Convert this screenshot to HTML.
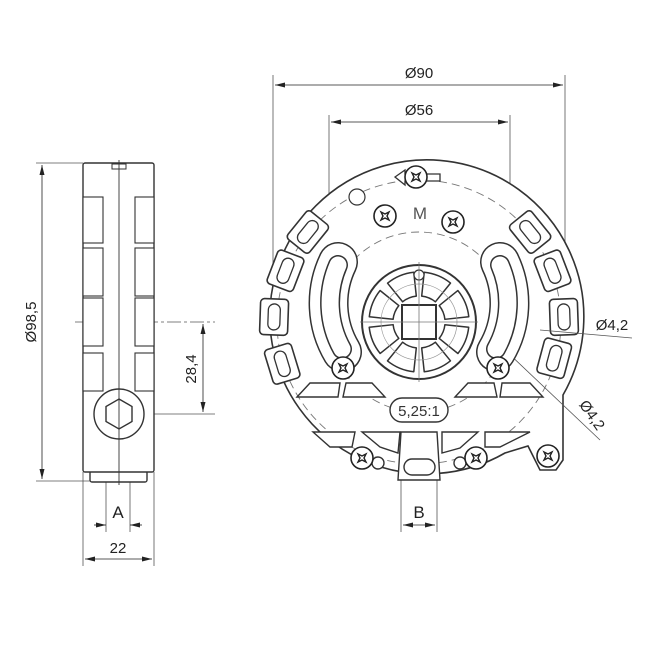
<!DOCTYPE html>
<html><head><meta charset="utf-8"><style>html,body{margin:0;padding:0;background:#fff}svg{display:block}</style></head><body>
<svg width="650" height="650" viewBox="0 0 650 650" xmlns="http://www.w3.org/2000/svg" font-family="Liberation Sans, DejaVu Sans, sans-serif">
<defs>
<marker id="ar" markerWidth="10" markerHeight="6" refX="10" refY="3" orient="auto-start-reverse" markerUnits="userSpaceOnUse"><path d="M0,0.5 L10,3 L0,5.5z" fill="#222"/></marker>
<g id="scr"><circle r="11" fill="#fff" stroke="#222" stroke-width="1.6"/><path d="M-4,-4 L0,-2 L4,-4 L2,0 L4,4 L0,2 L-4,4 L-2,0z" fill="none" stroke="#222" stroke-width="1.4"/></g>
<g id="cell"><rect x="-14" y="-18" width="28" height="36" rx="4" fill="#fff" stroke="#333" stroke-width="1.6"/><rect x="-6" y="-13" width="12" height="26" rx="6" fill="none" stroke="#333" stroke-width="1.3"/></g>
<path id="seg" d="M49.7,5.2 A50,50 0 0 1 38.9,31.5 L20.2,16.4 A26,26 0 0 0 25.9,2.7 Z" fill="#fff" stroke="#333" stroke-width="1.5" stroke-linejoin="round"/>
</defs>
<g stroke="#555" stroke-width="0.8" fill="none">
<line x1="36" y1="163" x2="83" y2="163"/><line x1="36" y1="481" x2="95" y2="481"/>
<line x1="42" y1="165" x2="42" y2="479" stroke="#222" marker-start="url(#ar)" marker-end="url(#ar)"/>
<line x1="75" y1="322" x2="215" y2="322" stroke-dasharray="14,3,3,3"/>
<line x1="144" y1="414" x2="215" y2="414"/>
<line x1="203" y1="324" x2="203" y2="412" stroke="#222" marker-start="url(#ar)" marker-end="url(#ar)"/>
<line x1="83" y1="472" x2="83" y2="566"/><line x1="154" y1="472" x2="154" y2="566"/>
<line x1="106" y1="420" x2="106" y2="532"/><line x1="130" y1="420" x2="130" y2="532"/>
<line x1="94" y1="525" x2="106" y2="525" stroke="#222" marker-end="url(#ar)"/><line x1="142" y1="525" x2="130" y2="525" stroke="#222" marker-end="url(#ar)"/>
<line x1="85" y1="559" x2="152" y2="559" stroke="#222" marker-start="url(#ar)" marker-end="url(#ar)"/>
<line x1="273" y1="75" x2="273" y2="320"/><line x1="565" y1="75" x2="565" y2="300"/>
<line x1="275" y1="85" x2="563" y2="85" stroke="#222" marker-start="url(#ar)" marker-end="url(#ar)"/>
<line x1="329" y1="115" x2="329" y2="370"/><line x1="510" y1="115" x2="510" y2="370"/>
<line x1="331" y1="122" x2="508" y2="122" stroke="#222" marker-start="url(#ar)" marker-end="url(#ar)"/>
<line x1="401" y1="380" x2="401" y2="532"/><line x1="437" y1="380" x2="437" y2="532"/>
<line x1="403" y1="525" x2="435" y2="525" stroke="#222" marker-start="url(#ar)" marker-end="url(#ar)"/>
</g>
<g stroke="#333" stroke-width="1.4" fill="#fff">
<rect x="90" y="471" width="57" height="11" rx="2"/>
<rect x="83" y="163" width="71" height="309" rx="2"/>
<g stroke-width="1.1">
<rect x="83" y="197" width="20" height="46"/><rect x="83" y="248" width="20" height="48"/><rect x="83" y="298" width="20" height="48"/><rect x="83" y="353" width="20" height="38"/>
<rect x="135" y="197" width="19" height="46"/><rect x="135" y="248" width="19" height="48"/><rect x="135" y="298" width="19" height="48"/><rect x="135" y="353" width="19" height="38"/>
</g>
<circle cx="119" cy="414" r="25"/>
<path d="M119,399 L132,406.5 L132,421.5 L119,429 L106,421.5 L106,406.5z"/>
<rect x="112" y="164" width="14" height="5" stroke-width="1"/>
</g>
<line x1="119" y1="160" x2="119" y2="485" stroke="#333" stroke-width="0.9"/>
<!-- front view -->
<path d="M563,395 A157,157 0 1 0 505,453 L528,446 L540,470 L556,470 L563,460 Z" stroke="#333" stroke-width="1.6" fill="#fff"/>
<g fill="none" stroke="#777" stroke-width="0.9" stroke-dasharray="8,5">
<circle cx="419" cy="322" r="142"/><circle cx="419" cy="322" r="90"/>
</g>
<g>
<use href="#cell" transform="translate(419,322) rotate(39) translate(-143,0)"/>
<use href="#cell" transform="translate(419,322) rotate(21) translate(-143,0)"/>
<use href="#cell" transform="translate(419,322) rotate(2) translate(-145,0)"/>
<use href="#cell" transform="translate(419,322) rotate(-17) translate(-143,0)"/>
<use href="#cell" transform="translate(419,322) rotate(-39) translate(143,0)"/>
<use href="#cell" transform="translate(419,322) rotate(-21) translate(143,0)"/>
<use href="#cell" transform="translate(419,322) rotate(-2) translate(145,0)"/>
<use href="#cell" transform="translate(419,322) rotate(15) translate(140,0)"/>
</g>
<g stroke="#555" stroke-width="0.8" fill="none">
<line x1="540" y1="330" x2="632" y2="338"/>
<line x1="505" y1="350" x2="600" y2="440"/>
</g>
<g fill="none" stroke-linecap="round">
<path d="M338,262 A95,95 0 0 0 342,352" stroke="#333" stroke-width="40"/>
<path d="M338,262 A95,95 0 0 0 342,352" stroke="#fff" stroke-width="37"/>
<path d="M338,265 A95,95 0 0 0 342,349" stroke="#333" stroke-width="20"/>
<path d="M338,265 A95,95 0 0 0 342,349" stroke="#fff" stroke-width="17"/>
<path d="M500,262 A95,95 0 0 1 496,352" stroke="#333" stroke-width="40"/>
<path d="M500,262 A95,95 0 0 1 496,352" stroke="#fff" stroke-width="37"/>
<path d="M500,265 A95,95 0 0 1 496,349" stroke="#333" stroke-width="20"/>
<path d="M500,265 A95,95 0 0 1 496,349" stroke="#fff" stroke-width="17"/>
</g>
<g stroke="#333" fill="#fff">
<circle cx="419" cy="322" r="57" stroke-width="2"/>
<g transform="translate(419,322)">
<use href="#seg"/><use href="#seg" transform="rotate(45)"/><use href="#seg" transform="rotate(90)"/><use href="#seg" transform="rotate(135)"/>
<use href="#seg" transform="rotate(180)"/><use href="#seg" transform="rotate(225)"/><use href="#seg" transform="rotate(270)"/><use href="#seg" transform="rotate(315)"/>
</g>
<circle cx="419" cy="322" r="38" fill="none" stroke="#999" stroke-width="0.7"/>
<rect x="402" y="305" width="34" height="34" stroke-width="2"/>
<circle cx="419" cy="275" r="5" stroke-width="1.2"/>
<circle cx="357" cy="197" r="8" stroke-width="1.2"/>
</g>
<g stroke="#777" stroke-width="0.8"><line x1="419" y1="262" x2="419" y2="382"/><line x1="360" y1="322" x2="478" y2="322"/></g>
<g stroke="#333" stroke-width="1.4" fill="#fff">
<path d="M297,397 L310,383 L340,383 L338,397z"/><path d="M343,397 L346,383 L372,383 L385,397z"/>
<path d="M455,397 L468,383 L494,383 L497,397z"/><path d="M500,397 L502,383 L530,383 L543,397z"/>
<path d="M313,432 L355,432 L352,447 L330,447z"/><path d="M362,432 L400,432 L398,453 L380,447z"/>
<path d="M442,432 L478,432 L460,448 L442,453z"/><path d="M485,432 L530,432 L500,447 L485,447z"/>
<path d="M401,432 L437,432 L440,480 L398,480z"/>
<rect x="404" y="459" width="31" height="16" rx="8"/>
<rect x="390" y="398" width="58" height="24" rx="12"/>
<circle cx="378" cy="463" r="6"/><circle cx="460" cy="463" r="6"/>
</g>
<text x="419" y="416" font-size="15" text-anchor="middle" fill="#333">5,25:1</text>
<text x="420" y="219" font-size="17" text-anchor="middle" fill="#555">M</text>
<path d="M395,177 L405,170 L405,174 L440,174 L440,181 L405,181 L405,185z" fill="#fff" stroke="#333" stroke-width="1.3"/>
<g>
<use href="#scr" x="416" y="177"/><use href="#scr" x="385" y="216"/><use href="#scr" x="453" y="222"/>
<use href="#scr" x="343" y="368"/><use href="#scr" x="498" y="368"/>
<use href="#scr" x="362" y="458"/><use href="#scr" x="476" y="458"/><use href="#scr" x="548" y="456"/>
</g>
<g fill="#222" font-size="15">
<text x="419" y="78" text-anchor="middle">Ø90</text>
<text x="419" y="115" text-anchor="middle">Ø56</text>
<text x="612" y="330" text-anchor="middle">Ø4,2</text>
<text x="0" y="0" transform="translate(588,418) rotate(55)" text-anchor="middle">Ø4,2</text>
<text x="0" y="0" transform="translate(36,322) rotate(-90)" text-anchor="middle">Ø98,5</text>
<text x="0" y="0" transform="translate(196,369) rotate(-90)" text-anchor="middle">28,4</text>
<text x="118" y="518" text-anchor="middle" font-size="17">A</text>
<text x="118" y="553" text-anchor="middle">22</text>
<text x="419" y="518" text-anchor="middle" font-size="17">B</text>
</g>
</svg>
</body></html>
